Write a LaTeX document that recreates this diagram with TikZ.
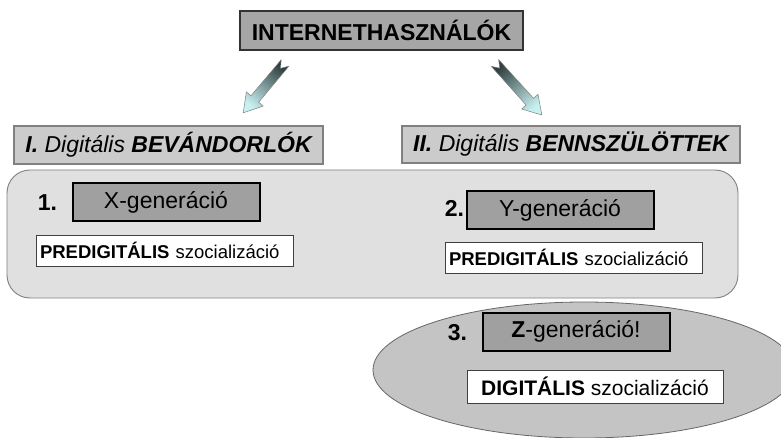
\documentclass[tikz,border=0pt]{standalone}
\usepackage{fontspec}
\setmainfont{Liberation Sans}
\usetikzlibrary{shapes.geometric}
\definecolor{topfill}{HTML}{A6A6A6}
\definecolor{headfill}{HTML}{CBCBCB}
\definecolor{genfill}{HTML}{A0A0A0}
\definecolor{groupfill}{HTML}{E0E0E0}
\definecolor{ellfill}{HTML}{C4C4C4}
\definecolor{edgegray}{HTML}{808080}
\definecolor{arrdark}{HTML}{2F3F3F}
\definecolor{arrlight}{HTML}{C8F0F0}
\begin{document}
\begin{tikzpicture}[x=1pt,y=-1pt,
  topbox/.style={draw=black!80, line width=1.6pt, fill=topfill, inner sep=0pt,
    font=\fontsize{23}{27}\selectfont\bfseries},
  headbox/.style={draw=edgegray, line width=1.2pt, fill=headfill, inner sep=0pt,
    font=\fontsize{23}{27}\selectfont\itshape},
  genbox/.style={draw=black, line width=2pt, fill=genfill, inner sep=0pt,
    minimum width=187pt, minimum height=38pt, font=\fontsize{23}{27}\selectfont},
  socbox/.style={draw=black!75, line width=0.8pt, fill=white, inner xsep=4pt, inner ysep=0pt,
    text width=249pt, align=left, minimum height=31pt, font=\fontsize{18.5}{22}\selectfont},
  digbox/.style={draw=black!75, line width=0.8pt, fill=white, inner sep=0pt,
    minimum width=256pt, minimum height=33pt, font=\fontsize{21}{25}\selectfont},
  numlabel/.style={inner sep=0pt, font=\fontsize{23}{27}\selectfont\bfseries},
  blockarrow/.style={draw=edgegray, line width=0.5pt}
]
\useasboundingbox (0,0) rectangle (781,438);

% group panel and ellipse
\node[draw=edgegray, line width=0.9pt, fill=groupfill, rounded corners=23pt,
  minimum width=731pt, minimum height=128pt, inner sep=0pt] (group) at (372.5,234) {};
\node[ellipse, draw=black!60, line width=0.8pt, fill=ellfill,
  minimum width=422pt, minimum height=136pt, inner sep=0pt] (oval) at (584,370) {};

% top and header boxes
\node[topbox, minimum width=283pt, minimum height=39pt] (top) at (381.5,30.5) {INTERNETHASZNÁLÓK};
\node[headbox, minimum width=309pt, minimum height=38pt] (imm) at (168.5,145)
  {\textbf{I.} Digitális \textbf{BEVÁNDORLÓK}};
\node[headbox, minimum width=338pt, minimum height=37pt] (nat) at (571,144.5)
  {\textbf{II.} Digitális \textbf{BENNSZÜLÖTTEK}};

% arrows
\coordinate (lt) at (285,63);
\coordinate (rt) at (495,63);
\begin{scope}[shift={(lt)}, rotate=230]
  \path[blockarrow, top color=arrdark, bottom color=arrlight, shading angle=-40]
    (0,-5) -- (47,-5) -- (47,-11) -- (65,0) -- (47,11) -- (47,5) -- (0,5) -- (7,0) -- cycle;
\end{scope}
\begin{scope}[shift={(rt)}, rotate=-48]
  \path[blockarrow, top color=arrdark, bottom color=arrlight, shading angle=42]
    (0,-5) -- (52,-5) -- (52,-11) -- (70,0) -- (52,11) -- (52,5) -- (0,5) -- (7,0) -- cycle;
\end{scope}

% generations
\node[numlabel] (n1) at (47.5,203) {1.};
\node[genbox] (xgen) at (166,202) {X-generáció};
\node[socbox] (xsoc) at (164.5,250.5) {\textbf{PREDIGITÁLIS} szocializáció};

\node[numlabel] (n2) at (454.5,208) {2.};
\node[genbox] (ygen) at (560,210) {Y-generáció};
\node[socbox] (ysoc) at (573.5,257.5) {\textbf{PREDIGITÁLIS} szocializáció};

\node[numlabel] (n3) at (457.5,333) {3.};
\node[genbox] (zgen) at (576,331.5) {\textbf{Z}-generáció!};
\node[digbox] (zsoc) at (595,386.5) {\textbf{DIGITÁLIS} szocializáció};
\end{tikzpicture}
\end{document}
